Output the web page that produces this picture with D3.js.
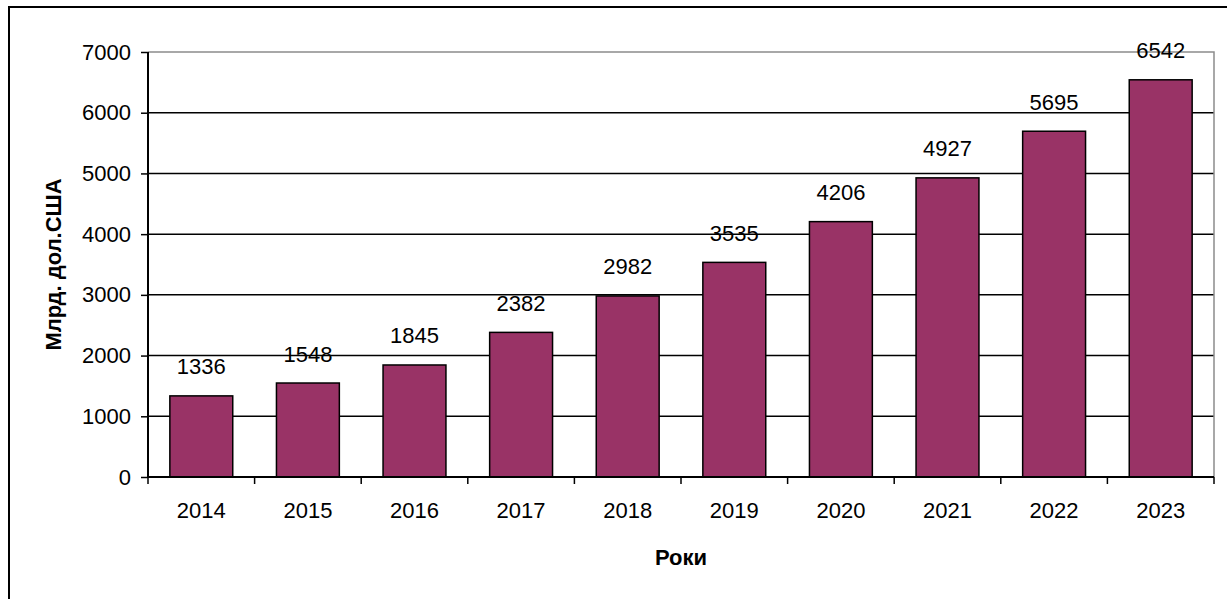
<!DOCTYPE html>
<html>
<head>
<meta charset="utf-8">
<script src="https://cdn.jsdelivr.net/npm/d3@7"></script>
<style>
  body { margin: 0; background: #fff; }
  svg text { font-family: Arial, "Liberation Sans", sans-serif; fill: #000; }
</style>
</head>
<body>
<script>
// chart data
var years = ["2014","2015","2016","2017","2018","2019","2020","2021","2022","2023"];
var values = [1336, 1548, 1845, 2382, 2982, 3535, 4206, 4927, 5695, 6542];
var yTicks = [0, 1000, 2000, 3000, 4000, 5000, 6000, 7000];
var yTitle = "Млрд. дол.США";
var xTitle = "Роки";

(function(){
  var W = 1227, H = 599,
      left = 148, right = 1214, top = 52, bottom = 477,
      fs = "22px";

  var svg = d3.select("body").append("svg").attr("width", W).attr("height", H);

  // outer frame
  svg.append("rect").attr("x", 9).attr("y", 7).attr("width", W + 10).attr("height", H + 10)
    .attr("fill", "none").attr("stroke", "#000").attr("stroke-width", 2);

  var x = d3.scaleBand().domain(years).range([left, right]).paddingInner(0.41).paddingOuter(0.205);
  var y = d3.scaleLinear().domain([0, 7000]).range([bottom, top]);

  // grid
  svg.append("g").selectAll("line").data(yTicks.filter(function(d){ return d > 0 && d < 7000; }))
    .enter().append("line")
    .attr("x1", left).attr("x2", right)
    .attr("y1", function(d){ return y(d); }).attr("y2", function(d){ return y(d); })
    .attr("stroke", "#000").attr("stroke-width", 1.5);

  // plot area border (top, right)
  svg.append("path")
    .attr("d", "M" + left + "," + y(7000) + "H" + right + "V" + bottom)
    .attr("fill", "none").attr("stroke", "#8c8c8c").attr("stroke-width", 1.5);

  // bars
  svg.append("g").selectAll("rect").data(values).enter().append("rect")
    .attr("x", function(d, i){ return x(years[i]); })
    .attr("y", function(d){ return y(d); })
    .attr("width", x.bandwidth())
    .attr("height", function(d){ return y(0) - y(d); })
    .attr("fill", "#993366").attr("stroke", "#000").attr("stroke-width", 1.5);

  // value labels
  svg.append("g").selectAll("text").data(values).enter().append("text")
    .attr("x", function(d, i){ return x(years[i]) + x.bandwidth() / 2; })
    .attr("y", function(d){ return y(d) - 21.5; })
    .attr("text-anchor", "middle").style("font-size", fs)
    .text(function(d){ return d; });

  // y axis
  var yAxis = svg.append("g").attr("transform", "translate(" + left + ",0)")
    .call(d3.axisLeft(y).tickValues(yTicks).tickSize(7).tickPadding(10).tickFormat(d3.format("d")));
  yAxis.select(".domain").attr("stroke", "#000").attr("stroke-width", 2).attr("d", "M0," + top + "V" + bottom);
  yAxis.selectAll(".tick line").attr("stroke", "#000").attr("stroke-width", 1.5);
  yAxis.selectAll(".tick text").style("font-size", fs).attr("font-family", null);

  // x axis
  svg.append("line").attr("x1", left).attr("x2", right).attr("y1", bottom).attr("y2", bottom)
    .attr("stroke", "#000").attr("stroke-width", 2);
  var bounds = d3.range(years.length + 1).map(function(i){ return left + i * x.step(); });
  svg.append("g").selectAll("line").data(bounds).enter().append("line")
    .attr("x1", function(d){ return d; }).attr("x2", function(d){ return d; })
    .attr("y1", bottom).attr("y2", bottom + 7)
    .attr("stroke", "#000").attr("stroke-width", 1.5);
  svg.append("g").selectAll("text").data(years).enter().append("text")
    .attr("x", function(d){ return x(d) + x.bandwidth() / 2; })
    .attr("y", 518).attr("text-anchor", "middle").style("font-size", fs)
    .text(function(d){ return d; });

  // titles
  svg.append("text").attr("x", (left + right) / 2).attr("y", 565)
    .attr("text-anchor", "middle").style("font-size", fs).style("font-weight", "bold")
    .text(xTitle);
  svg.append("text").attr("transform", "translate(61," + ((top + bottom) / 2) + ") rotate(-90)")
    .attr("text-anchor", "middle").style("font-size", fs).style("font-weight", "bold")
    .text(yTitle);
})();
</script>
</body>
</html>
